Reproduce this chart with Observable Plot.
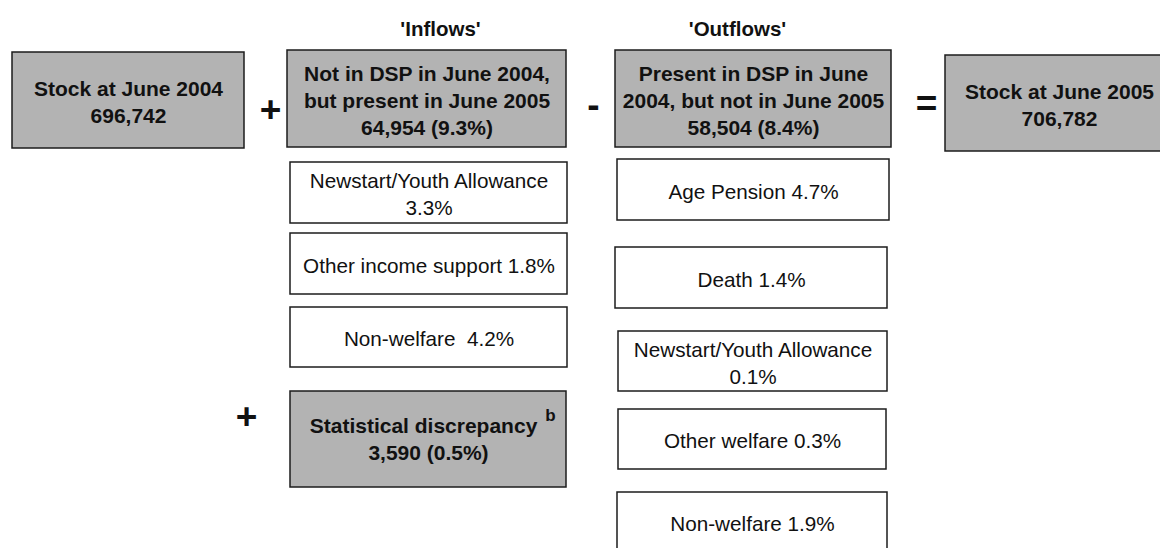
<!DOCTYPE html>
<html><head><meta charset="utf-8">
<script src="https://cdn.jsdelivr.net/npm/d3@7"></script>
<script src="https://cdn.jsdelivr.net/npm/@observablehq/plot@0.6"></script>
<style>
html,body{margin:0;padding:0;background:#fff;overflow:hidden;}
#chart svg{display:block;}
</style></head><body><div id="chart"></div>
<script>
// ---------- data (values & texts) ----------
const headers = ["'Inflows'", "'Outflows'"];
const stockLabels = ["Stock at June 2004", "Stock at June 2005"];
const stockValues = [696742, 706782];
const flowLabels = ["Not in DSP in June 2004,\nbut present in June 2005", "Present in DSP in June\n2004, but not in June 2005"];
const flowValues = [64954, 58504];
const flowShares = [9.3, 8.4];
const inflowCategories = ["Newstart/Youth Allowance", "Other income support", "Non-welfare "];
const inflowShares = [3.3, 1.8, 4.2];
const outflowCategories = ["Age Pension", "Death", "Newstart/Youth Allowance", "Other welfare", "Non-welfare"];
const outflowShares = [4.7, 1.4, 0.1, 0.3, 1.9];
const discrepancyLabel = "Statistical discrepancy";
const discrepancyNote = "b";
const discrepancyValue = 3590;
const discrepancyShare = 0.5;
const operators = ["+", "-", "=", "+"];

// ---------- layout (diagram units) ----------
const W = 1160, H = 548;
const mainLayout = [
  {x1: 12, x2: 244, y1: 52, y2: 148},
  {x1: 287, x2: 566, y1: 50, y2: 147},
  {x1: 615, x2: 891, y1: 50, y2: 147},
  {x1: 945, x2: 1173, y1: 55, y2: 151}
];
const inflowLayout = [
  {x1: 290, x2: 567, y1: 162, y2: 223},
  {x1: 290, x2: 567, y1: 233, y2: 294},
  {x1: 290, x2: 567, y1: 307, y2: 367}
];
const discrepancyLayout = {x1: 290, x2: 566, y1: 391, y2: 487};
const outflowLayout = [
  {x1: 617, x2: 889, y1: 159, y2: 220},
  {x1: 615, x2: 887, y1: 247, y2: 308},
  {x1: 618, x2: 887, y1: 331, y2: 391},
  {x1: 618, x2: 886, y1: 409, y2: 469},
  {x1: 617, x2: 887, y1: 492, y2: 552}
];
const headerLayout = [{x: 440, y: 29}, {x: 737, y: 29}];
const operatorLayout = [{x: 270, y: 110}, {x: 593, y: 105}, {x: 926, y: 104}, {x: 246, y: 417}];

const GREY = "#b3b3b3", EDGE = "#1c1c1c";
const fmt = d3.format(",");
const pct = v => `${v.toFixed(1)}%`;

// ---------- build tables ----------
const greyBoxes = [
  {...mainLayout[0], label: `${stockLabels[0]}\n${fmt(stockValues[0])}`},
  {...mainLayout[1], label: `${flowLabels[0]}\n${fmt(flowValues[0])} (${pct(flowShares[0])})`},
  {...mainLayout[2], label: `${flowLabels[1]}\n${fmt(flowValues[1])} (${pct(flowShares[1])})`},
  {...mainLayout[3], label: `${stockLabels[1]}\n${fmt(stockValues[1])}`}
];
const wrapLong = (name, share) => name.length > 21 ? `${name}\n${pct(share)}` : `${name} ${pct(share)}`;
const whiteBoxes = [
  ...inflowCategories.map((c, i) => ({...inflowLayout[i], label: wrapLong(c, inflowShares[i])})),
  ...outflowCategories.map((c, i) => ({...outflowLayout[i], label: wrapLong(c, outflowShares[i])}))
];
const disc = {...discrepancyLayout};
const discLine1 = [{x: (disc.x1 + disc.x2) / 2, y: (disc.y1 + disc.y2) / 2 - 13.5, t: discrepancyLabel}];
const discLine2 = [{x: (disc.x1 + disc.x2) / 2, y: (disc.y1 + disc.y2) / 2 + 13.5, t: `${fmt(discrepancyValue)} (${pct(discrepancyShare)})`}];
const discNote = [{x: (disc.x1 + disc.x2) / 2, y: (disc.y1 + disc.y2) / 2 - 24, t: discrepancyNote}];
const headerRows = headers.map((h, i) => ({...headerLayout[i], t: h}));
const opRows = operators.map((o, i) => ({...operatorLayout[i], t: o}));

const cx = d => (d.x1 + d.x2) / 2, cy = d => (d.y1 + d.y2) / 2;

const chart = Plot.plot({
  width: W, height: H,
  margin: 0,
  x: {domain: [0, W], range: [0, W], axis: null},
  y: {domain: [0, H], range: [0, H], axis: null},
  style: {fontFamily: "'Liberation Sans', Arial, Helvetica, sans-serif", background: "#fff", color: "#111"},
  marks: [
    Plot.rect(greyBoxes, {x1: "x1", x2: "x2", y1: "y1", y2: "y2", fill: GREY, stroke: EDGE, strokeWidth: 1.5, clip: true}),
    Plot.rect([disc], {x1: "x1", x2: "x2", y1: "y1", y2: "y2", fill: GREY, stroke: EDGE, strokeWidth: 1.5}),
    Plot.rect(whiteBoxes, {x1: "x1", x2: "x2", y1: "y1", y2: "y2", fill: "#fff", stroke: EDGE, strokeWidth: 1.5, clip: true}),
    Plot.text(greyBoxes, {x: cx, y: cy, text: "label", fontSize: 21, fontWeight: "bold", lineHeight: 1.29, fill: "#111", clip: true}),
    Plot.text(whiteBoxes, {x: cx, y: cy, text: "label", fontSize: 20.7, lineHeight: 1.3, fill: "#111"}),
    Plot.text(discLine1, {x: "x", y: "y", text: "t", fontSize: 21, fontWeight: "bold", fill: "#111", dx: -5}),
    Plot.text(discLine2, {x: "x", y: "y", text: "t", fontSize: 21, fontWeight: "bold", fill: "#111"}),
    Plot.text(discNote, {x: "x", y: "y", text: "t", fontSize: 17, fontWeight: "bold", fill: "#111", dx: 122}),
    Plot.text(headerRows, {x: "x", y: "y", text: "t", fontSize: 20.5, fontWeight: "bold", fill: "#111"}),
    Plot.text(opRows, {x: "x", y: "y", text: "t", fontSize: 37, fontWeight: "bold", fill: "#111"})
  ]
});
document.getElementById("chart").append(chart);
</script>
</body></html>
